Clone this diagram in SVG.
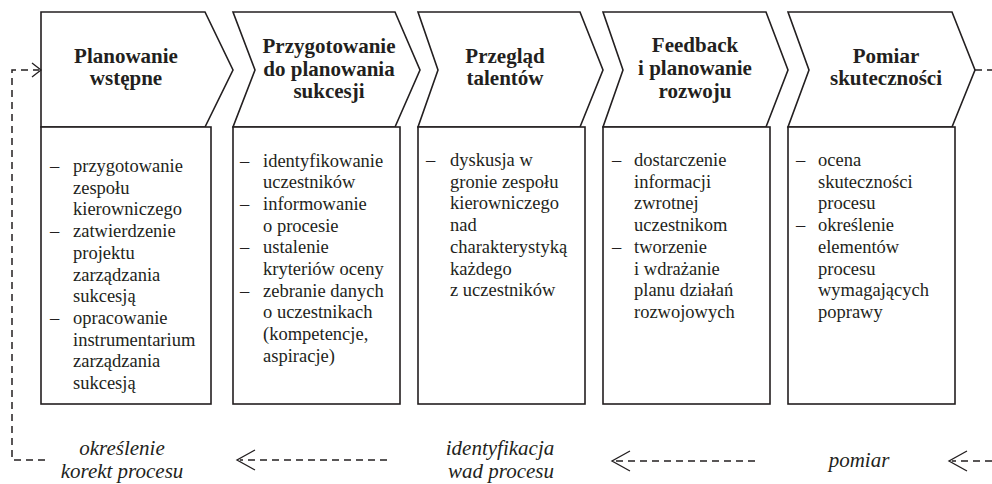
<svg xmlns="http://www.w3.org/2000/svg" width="992" height="484" viewBox="0 0 992 484">
<rect width="992" height="484" fill="#fff"/>
<g id="node1">
<g fill="#fff" stroke="#231f20" stroke-width="1.6">
<path d="M41,12 H205 L233,70 L205,127 H41 Z"/>
<rect x="41" y="127" width="170" height="277"/>
</g>
<text font-family="Liberation Serif" font-weight="bold" font-size="21" fill="#231f20" text-anchor="middle" x="126" y="63">Planowanie</text>
<text font-family="Liberation Serif" font-weight="bold" font-size="21" fill="#231f20" text-anchor="middle" x="126" y="85">wstępne</text>
<text font-family="Liberation Serif" font-size="18.5" fill="#231f20"><tspan x="50" y="172">–</tspan><tspan x="73" y="172">przygotowanie</tspan><tspan x="73" y="193.7">zespołu</tspan><tspan x="73" y="215.4">kierowniczego</tspan><tspan x="50" y="237.1">–</tspan><tspan x="73" y="237.1">zatwierdzenie</tspan><tspan x="73" y="258.8">projektu</tspan><tspan x="73" y="280.5">zarządzania</tspan><tspan x="73" y="302.2">sukcesją</tspan><tspan x="50" y="323.9">–</tspan><tspan x="73" y="323.9">opracowanie</tspan><tspan x="73" y="345.6">instrumentarium</tspan><tspan x="73" y="367.3">zarządzania</tspan><tspan x="73" y="389">sukcesją</tspan></text>
</g>
<g id="node2">
<g fill="#fff" stroke="#231f20" stroke-width="1.6">
<path d="M233,12 H395 L420,70 L395,127 H233 L255,70 Z"/>
<rect x="233" y="127" width="167" height="277"/>
</g>
<text font-family="Liberation Serif" font-weight="bold" font-size="21" fill="#231f20" text-anchor="middle" x="329" y="53">Przygotowanie</text>
<text font-family="Liberation Serif" font-weight="bold" font-size="21" fill="#231f20" text-anchor="middle" x="329" y="75.5">do planowania</text>
<text font-family="Liberation Serif" font-weight="bold" font-size="21" fill="#231f20" text-anchor="middle" x="329" y="98">sukcesji</text>
<text font-family="Liberation Serif" font-size="18.5" fill="#231f20"><tspan x="240" y="166.5">–</tspan><tspan x="263" y="166.5">identyfikowanie</tspan><tspan x="263" y="188.2">uczestników</tspan><tspan x="240" y="209.9">–</tspan><tspan x="263" y="209.9">informowanie</tspan><tspan x="263" y="231.6">o procesie</tspan><tspan x="240" y="253.3">–</tspan><tspan x="263" y="253.3">ustalenie</tspan><tspan x="263" y="275">kryteriów oceny</tspan><tspan x="240" y="296.7">–</tspan><tspan x="263" y="296.7">zebranie danych</tspan><tspan x="263" y="318.4">o uczestnikach</tspan><tspan x="263" y="340.1">(kompetencje,</tspan><tspan x="263" y="361.8">aspiracje)</tspan></text>
</g>
<g id="node3">
<g fill="#fff" stroke="#231f20" stroke-width="1.6">
<path d="M418,12 H580 L603,70 L580,127 H418 L438,70 Z"/>
<rect x="418" y="127" width="167" height="277"/>
</g>
<text font-family="Liberation Serif" font-weight="bold" font-size="21" fill="#231f20" text-anchor="middle" x="505" y="63">Przegląd</text>
<text font-family="Liberation Serif" font-weight="bold" font-size="21" fill="#231f20" text-anchor="middle" x="505" y="85">talentów</text>
<text font-family="Liberation Serif" font-size="18.5" fill="#231f20"><tspan x="426" y="166">–</tspan><tspan x="450" y="166">dyskusja w</tspan><tspan x="450" y="187.7">gronie zespołu</tspan><tspan x="450" y="209.4">kierowniczego</tspan><tspan x="450" y="231.1">nad</tspan><tspan x="450" y="252.8">charakterystyką</tspan><tspan x="450" y="274.5">każdego</tspan><tspan x="450" y="296.2">z uczestników</tspan></text>
</g>
<g id="node4">
<g fill="#fff" stroke="#231f20" stroke-width="1.6">
<path d="M603,12 H766 L788,70 L766,127 H603 L623,70 Z"/>
<rect x="603" y="127" width="167" height="277"/>
</g>
<text font-family="Liberation Serif" font-weight="bold" font-size="21" fill="#231f20" text-anchor="middle" x="695" y="52">Feedback</text>
<text font-family="Liberation Serif" font-weight="bold" font-size="21" fill="#231f20" text-anchor="middle" x="695" y="75">i planowanie</text>
<text font-family="Liberation Serif" font-weight="bold" font-size="21" fill="#231f20" text-anchor="middle" x="695" y="98">rozwoju</text>
<text font-family="Liberation Serif" font-size="18.5" fill="#231f20"><tspan x="612" y="166">–</tspan><tspan x="634" y="166">dostarczenie</tspan><tspan x="634" y="187.7">informacji</tspan><tspan x="634" y="209.4">zwrotnej</tspan><tspan x="634" y="231.1">uczestnikom</tspan><tspan x="612" y="252.8">–</tspan><tspan x="634" y="252.8">tworzenie</tspan><tspan x="634" y="274.5">i wdrażanie</tspan><tspan x="634" y="296.2">planu działań</tspan><tspan x="634" y="317.9">rozwojowych</tspan></text>
</g>
<g id="node5">
<g fill="#fff" stroke="#231f20" stroke-width="1.6">
<path d="M788,12 H952 L975,70 L952,127 H788 L809,70 Z"/>
<rect x="788" y="127" width="167" height="277"/>
</g>
<text font-family="Liberation Serif" font-weight="bold" font-size="21" fill="#231f20" text-anchor="middle" x="886" y="63">Pomiar</text>
<text font-family="Liberation Serif" font-weight="bold" font-size="21" fill="#231f20" text-anchor="middle" x="886" y="85">skuteczności</text>
<text font-family="Liberation Serif" font-size="18.5" fill="#231f20"><tspan x="796" y="166">–</tspan><tspan x="818" y="166">ocena</tspan><tspan x="818" y="187.7">skuteczności</tspan><tspan x="818" y="209.4">procesu</tspan><tspan x="796" y="231.1">–</tspan><tspan x="818" y="231.1">określenie</tspan><tspan x="818" y="252.8">elementów</tspan><tspan x="818" y="274.5">procesu</tspan><tspan x="818" y="296.2">wymagających</tspan><tspan x="818" y="317.9">poprawy</tspan></text>
</g>
<g id="connectors" fill="none" stroke="#231f20">
<g stroke-width="1.5" stroke-dasharray="7 5">
<path d="M975,70 H992"/>
<path d="M45,460 H12 V70 H39"/>
<path d="M387,460 H240"/>
<path d="M755,461 H615"/>
<path d="M992,461 H952"/>
</g>
<g stroke-width="1.3">
<polyline points="32,63 41,70 32,77"/>
<polyline points="255,450 237,460 255,470"/>
<polyline points="630,451 612,461 630,471"/>
<polyline points="967,451 949,461 967,471"/>
</g>
</g>
<g id="labels" fill="#231f20" text-anchor="middle">
<text font-family="Liberation Serif" font-style="italic" font-size="21" x="122" y="455">określenie</text>
<text font-family="Liberation Serif" font-style="italic" font-size="21" x="122" y="478">korekt procesu</text>
<text font-family="Liberation Serif" font-style="italic" font-size="21" x="500" y="455">identyfikacja</text>
<text font-family="Liberation Serif" font-style="italic" font-size="21" x="501" y="478">wad procesu</text>
<text font-family="Liberation Serif" font-style="italic" font-size="21" x="859" y="467">pomiar</text>
</g>
</svg>
